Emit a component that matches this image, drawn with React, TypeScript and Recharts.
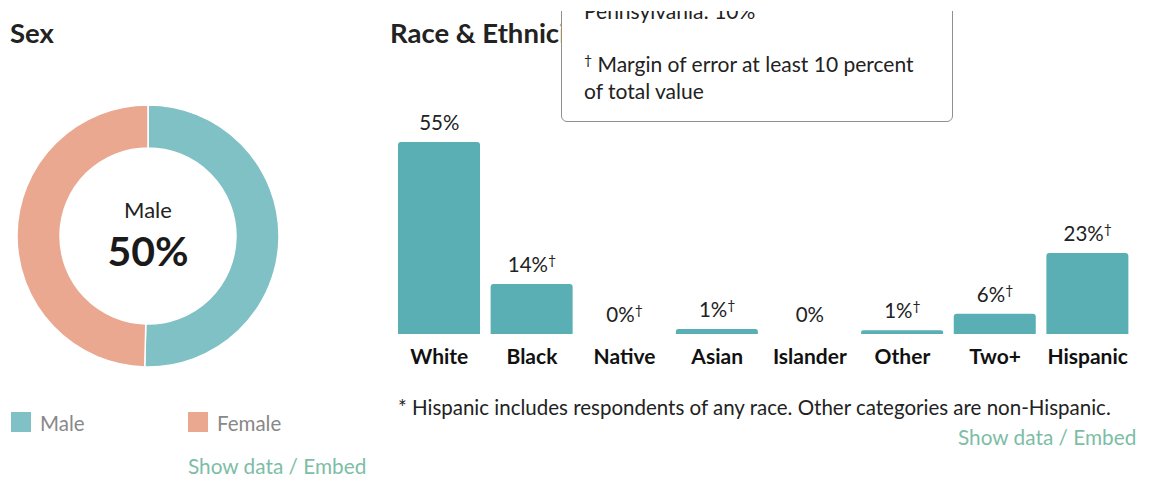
import React from "react";
import { PieChart, Pie, Cell, ComposedChart, Bar, Line, XAxis, YAxis, LabelList } from "recharts";

const sexNames = ["Male", "Female"];
const sexValues = [50.4, 49.6];
const sexColors = ["#7fc1c4", "#e9a88f"];

const raceCategories = ["White", "Black", "Native", "Asian", "Islander", "Other", "Two+", "Hispanic"];
const raceValues = [55, 14.3, 0, 1.4, 0, 1.1, 5.8, 23.2];
const raceLabels = ["55%", "14%", "0%", "1%", "0%", "1%", "6%", "23%"];
const raceDagger = [false, true, true, true, false, true, true, true];

const sexData = sexNames.map((name, i) => ({ name, value: sexValues[i] }));
const raceData = raceCategories.map((name, i) => ({ name, value: raceValues[i], label: raceLabels[i], dagger: raceDagger[i] }));

const FONT = "Lato, 'Open Sans', sans-serif";
const BAR_COLOR = "#5aafb4";
const LINK_COLOR = "#7dbda6";

const BarLabel = (props: any) => {
  const { x, y, index } = props;
  const d = raceData[index];
  if (!d || x == null || y == null) return null;
  return (
    <text x={x} y={y - 12} textAnchor="middle" fontFamily={FONT} fontSize={20.5} fill="#222">
      <tspan>{d.label}</tspan>
      {d.dagger ? <tspan dy={-7} fontSize={14}>†</tspan> : null}
    </text>
  );
};

const Tick = (props: any) => {
  const { x, y, payload } = props;
  return (
    <text x={x} y={y} dy="0.71em" textAnchor="middle" fontFamily={FONT} fontWeight={700} fontSize={21} fill="#111">
      {payload.value}
    </text>
  );
};

export default function App() {
  return (
    <div style={{ position: "fixed", left: 0, top: 0, width: 1149, height: 479, background: "#fff", fontFamily: FONT, overflow: "hidden" }}>
      {/* Sex panel */}
      <div style={{ position: "absolute", left: 10, top: 16, fontSize: 27.5, fontWeight: 700, color: "#222", lineHeight: "34px" }}>Sex</div>
      <div style={{ position: "absolute", left: -2, top: 86 }}>
        <PieChart width={300} height={300}>
          <Pie
            data={sexData}
            dataKey="value"
            nameKey="name"
            cx="50%"
            cy="50%"
            innerRadius={88}
            outerRadius={131}
            startAngle={90}
            endAngle={-270}
            stroke="#fff"
            strokeWidth={1.5}
            isAnimationActive={false}
          >
            {sexData.map((d, i) => (
              <Cell key={d.name} fill={sexColors[i]} />
            ))}
          </Pie>
        </PieChart>
      </div>
      <div style={{ position: "absolute", left: 48, width: 200, top: 197, textAlign: "center", fontSize: 22, color: "#222", lineHeight: "26px" }}>
        {sexNames[0]}
      </div>
      <div style={{ position: "absolute", left: 48, width: 200, top: 226, textAlign: "center", fontSize: 41, fontWeight: 700, color: "#1a1a1a", lineHeight: "50px" }}>
        {Math.round(sexValues[0])}%
      </div>
      {sexNames.map((n, i) => (
        <div key={n} style={{ position: "absolute", left: 11 + i * 177, top: 412, height: 20, display: "flex", alignItems: "center" }}>
          <div style={{ width: 20, height: 20, background: sexColors[i] }} />
          <div style={{ marginLeft: 9, fontSize: 20.5, color: "#888", lineHeight: "20px", paddingTop: 2 }}>{n}</div>
        </div>
      ))}
      <div style={{ position: "absolute", left: 188, top: 453, fontSize: 20.8, color: LINK_COLOR, whiteSpace: "nowrap" }}>Show data / Embed</div>

      {/* Race panel */}
      <div style={{ position: "absolute", left: 390, top: 16, fontSize: 27.5, fontWeight: 700, color: "#222", whiteSpace: "nowrap", lineHeight: "34px" }}>Race &amp; Ethnicity</div>
      <div style={{ position: "absolute", left: 393, top: 100 }}>
        <ComposedChart width={741} height={280} data={raceData} margin={{ top: 0, right: 0, bottom: 0, left: 0 }} barSize={82}>
          <XAxis dataKey="name" axisLine={false} tickLine={false} tickSize={0} tickMargin={15} height={46} interval={0} tick={<Tick />} />
          <YAxis hide domain={[0, 67]} />
          <Bar dataKey="value" fill={BAR_COLOR} radius={[3, 3, 0, 0]} isAnimationActive={false} />
          <Line dataKey="value" stroke="none" dot={false} activeDot={false} legendType="none" isAnimationActive={false}>
            <LabelList dataKey="label" content={<BarLabel />} />
          </Line>
        </ComposedChart>
      </div>
      <div style={{ position: "absolute", left: 398, top: 395, fontSize: 20.5, color: "#222", whiteSpace: "nowrap" }}>
        * Hispanic includes respondents of any race. Other categories are non-Hispanic.
      </div>
      <div style={{ position: "absolute", left: 958, top: 424, fontSize: 20.8, color: LINK_COLOR, whiteSpace: "nowrap" }}>Show data / Embed</div>

      {/* Tooltip clipped at top */}
      <div style={{ position: "absolute", left: 0, top: 11, width: 1149, height: 468, overflow: "hidden" }}>
        <div
          style={{
            position: "absolute",
            left: 561,
            top: -41,
            width: 392,
            height: 152,
            boxSizing: "border-box",
            border: "1.5px solid #8f8f8f",
            borderRadius: 6,
            background: "#fff",
            fontSize: 21,
            color: "#222",
          }}
        >
          <div style={{ position: "absolute", left: 22, top: 26, lineHeight: "27px", whiteSpace: "nowrap" }}>Pennsylvania: 10%</div>
          <div style={{ position: "absolute", left: 22, top: 75, lineHeight: "27px", whiteSpace: "nowrap" }}>
            <span style={{ fontSize: 14, verticalAlign: "7px" }}>†</span> Margin of error at least 10 percent
          </div>
          <div style={{ position: "absolute", left: 22, top: 106, lineHeight: "27px", whiteSpace: "nowrap" }}>of total value</div>
        </div>
      </div>
    </div>
  );
}
